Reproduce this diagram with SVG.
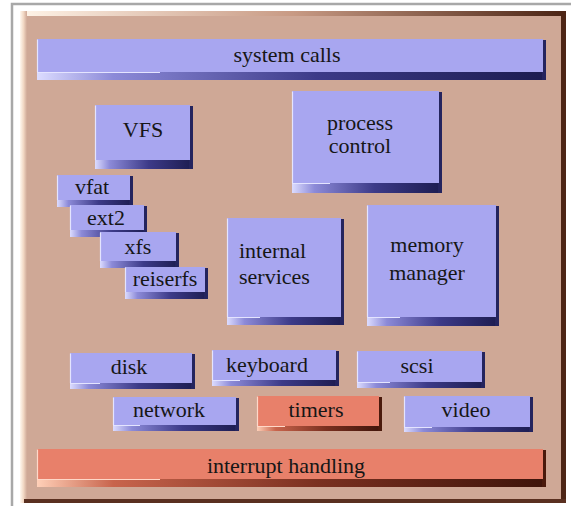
<svg xmlns="http://www.w3.org/2000/svg" width="571" height="506" viewBox="0 0 571 506">
  <defs>
    <!-- bottom bevel of the blue blocks: lit on the left, in shadow on the right -->
    <linearGradient id="slabBlue" x1="0" y1="0" x2="1" y2="0">
      <stop offset="0" stop-color="#dcdcff"/>
      <stop offset="0.15" stop-color="#8c8ad8"/>
      <stop offset="0.55" stop-color="#3c3a88"/>
      <stop offset="1" stop-color="#1c1c50"/>
    </linearGradient>
    <linearGradient id="slabRed" x1="0" y1="0" x2="1" y2="0">
      <stop offset="0" stop-color="#ffd0b8"/>
      <stop offset="0.15" stop-color="#c8644c"/>
      <stop offset="0.55" stop-color="#7a3020"/>
      <stop offset="1" stop-color="#3e140a"/>
    </linearGradient>
    <linearGradient id="boardTop" x1="0" y1="0" x2="1" y2="0">
      <stop offset="0" stop-color="#fff4e8"/>
      <stop offset="0.5" stop-color="#c89a84"/>
      <stop offset="1" stop-color="#4a2414"/>
    </linearGradient>
    <linearGradient id="boardLeft" x1="0" y1="0" x2="1" y2="0">
      <stop offset="0" stop-color="#fff8f0"/>
      <stop offset="0.5" stop-color="#f2d8c4"/>
      <stop offset="1" stop-color="#cfa896"/>
    </linearGradient>
  </defs>
  <style>
    .frame { stroke: #a8a8a8; stroke-width: 2.5; fill: none; }
    .board { fill: #cfa896; }
    .faceB { fill: #a8a6f0; }
    .faceR { fill: #e8806a; }
    .slabB { fill: url(#slabBlue); }
    .slabR { fill: url(#slabRed); }
    .sideB { fill: #24245e; }
    .sideR { fill: #4a1a0c; }
    .litB { stroke: #e4e4ff; stroke-width: 1.2; fill: none; }
    .litR { stroke: #ffd8c8; stroke-width: 1.2; fill: none; }
  </style>

  <rect width="571" height="506" fill="#ffffff"/>
  <!-- outer grey rule -->
  <path class="frame" d="M12 506 V4 H571"/>

  <!-- the board -->
  <g id="board">
    <rect class="board" x="20" y="11" width="546" height="492"/>
    <rect x="20" y="11" width="546" height="5" fill="url(#boardTop)"/>
    <rect x="20" y="11" width="7" height="492" fill="url(#boardLeft)"/>
    <rect x="561" y="11" width="5" height="492" fill="#4e2616"/>
    <rect x="24" y="499" width="542" height="4" fill="#5a3020"/>
  </g>

  <g id="system-calls">
    <rect class="slabB" x="37" y="70" width="509" height="10"/>
    <rect class="sideB" x="542" y="40" width="4" height="40"/>
    <rect class="faceB" x="37" y="39" width="506" height="33"/>
    <path class="litB" d="M37.5 72 V39.5 M37 72.5 H160"/>
    <text x="287" y="62" font-family="Liberation Serif, serif" font-size="22" fill="#161616" text-anchor="middle">system calls</text>
  </g>

  <g id="vfs">
    <rect class="slabB" x="95" y="158" width="98" height="11"/>
    <rect class="sideB" x="189" y="106" width="4" height="63"/>
    <rect class="faceB" x="95" y="105" width="95" height="55"/>
    <path class="litB" d="M95.5 160 V105.5"/>
    <text x="143" y="137" font-family="Liberation Serif, serif" font-size="22" fill="#161616" text-anchor="middle">VFS</text>
  </g>

  <g id="vfat">
    <rect class="slabB" x="57" y="198" width="76" height="9"/>
    <rect class="sideB" x="129" y="176" width="4" height="31"/>
    <rect class="faceB" x="57" y="175" width="73" height="25"/>
    <path class="litB" d="M57.5 200 V175.5"/>
    <text x="92" y="194" font-family="Liberation Serif, serif" font-size="22" fill="#161616" text-anchor="middle">vfat</text>
  </g>

  <g id="ext2">
    <rect class="slabB" x="70" y="228" width="77" height="9"/>
    <rect class="sideB" x="143" y="206" width="4" height="31"/>
    <rect class="faceB" x="70" y="205" width="74" height="25"/>
    <path class="litB" d="M70.5 230 V205.5"/>
    <text x="106" y="225" font-family="Liberation Serif, serif" font-size="22" fill="#161616" text-anchor="middle">ext2</text>
  </g>

  <g id="xfs">
    <rect class="slabB" x="100" y="259" width="79" height="9"/>
    <rect class="sideB" x="175" y="233" width="4" height="35"/>
    <rect class="faceB" x="100" y="232" width="76" height="29"/>
    <path class="litB" d="M100.5 261 V232.5"/>
    <text x="138" y="254" font-family="Liberation Serif, serif" font-size="22" fill="#161616" text-anchor="middle">xfs</text>
  </g>

  <g id="reiserfs">
    <rect class="slabB" x="125" y="290" width="83" height="9"/>
    <rect class="sideB" x="204" y="268" width="4" height="31"/>
    <rect class="faceB" x="125" y="267" width="80" height="25"/>
    <path class="litB" d="M125.5 292 V267.5"/>
    <text x="165" y="286" font-family="Liberation Serif, serif" font-size="22" fill="#161616" text-anchor="middle">reiserfs</text>
  </g>

  <g id="process-control">
    <rect class="slabB" x="292" y="181" width="150" height="12"/>
    <rect class="sideB" x="438" y="92" width="4" height="101"/>
    <rect class="faceB" x="292" y="91" width="147" height="92"/>
    <path class="litB" d="M292.5 183 V91.5 M292 183.5 H330"/>
    <text x="360" y="130" font-family="Liberation Serif, serif" font-size="22" fill="#161616" text-anchor="middle">process</text>
    <text x="360" y="153" font-family="Liberation Serif, serif" font-size="22" fill="#161616" text-anchor="middle">control</text>
  </g>

  <g id="internal-services">
    <rect class="slabB" x="227" y="315" width="117" height="10"/>
    <rect class="sideB" x="340" y="219" width="4" height="106"/>
    <rect class="faceB" x="227" y="218" width="114" height="99"/>
    <path class="litB" d="M227.5 317 V218.5 M227 317.5 H260"/>
    <text x="239" y="258" font-family="Liberation Serif, serif" font-size="22" fill="#161616">internal</text>
    <text x="239" y="284" font-family="Liberation Serif, serif" font-size="22" fill="#161616">services</text>
  </g>

  <g id="memory-manager">
    <rect class="slabB" x="367" y="315" width="132" height="11"/>
    <rect class="sideB" x="495" y="206" width="4" height="120"/>
    <rect class="faceB" x="367" y="205" width="129" height="112"/>
    <path class="litB" d="M367.5 317 V205.5 M367 317.5 H400"/>
    <text x="427" y="252" font-family="Liberation Serif, serif" font-size="22" fill="#161616" text-anchor="middle">memory</text>
    <text x="427" y="280" font-family="Liberation Serif, serif" font-size="22" fill="#161616" text-anchor="middle">manager</text>
  </g>

  <g id="disk">
    <rect class="slabB" x="70" y="381" width="125" height="8"/>
    <rect class="sideB" x="191" y="354" width="4" height="35"/>
    <rect class="faceB" x="70" y="353" width="122" height="30"/>
    <path class="litB" d="M70.5 383 V353.5 M70 383.5 H100"/>
    <text x="129" y="374" font-family="Liberation Serif, serif" font-size="22" fill="#161616" text-anchor="middle">disk</text>
  </g>

  <g id="keyboard">
    <rect class="slabB" x="212" y="378" width="127" height="8"/>
    <rect class="sideB" x="335" y="351" width="4" height="35"/>
    <rect class="faceB" x="212" y="350" width="124" height="30"/>
    <path class="litB" d="M212.5 380 V350.5 M212 380.5 H240"/>
    <text x="267" y="372" font-family="Liberation Serif, serif" font-size="22" fill="#161616" text-anchor="middle">keyboard</text>
  </g>

  <g id="scsi">
    <rect class="slabB" x="357" y="380" width="128" height="8"/>
    <rect class="sideB" x="481" y="352" width="4" height="36"/>
    <rect class="faceB" x="357" y="351" width="125" height="31"/>
    <path class="litB" d="M357.5 382 V351.5 M357 382.5 H390"/>
    <text x="417" y="373" font-family="Liberation Serif, serif" font-size="22" fill="#161616" text-anchor="middle">scsi</text>
  </g>

  <g id="network">
    <rect class="slabB" x="113" y="423" width="126" height="8"/>
    <rect class="sideB" x="235" y="398" width="4" height="33"/>
    <rect class="faceB" x="113" y="397" width="123" height="28"/>
    <path class="litB" d="M113.5 425 V397.5 M113 425.5 H140"/>
    <text x="169" y="417" font-family="Liberation Serif, serif" font-size="22" fill="#161616" text-anchor="middle">network</text>
  </g>

  <g id="timers">
    <rect class="slabR" x="257" y="424" width="125" height="7"/>
    <rect class="sideR" x="378" y="397" width="4" height="34"/>
    <rect class="faceR" x="257" y="396" width="122" height="30"/>
    <path class="litR" d="M257.5 426 V396.5 M257 426.5 H285"/>
    <text x="316" y="417" font-family="Liberation Serif, serif" font-size="22" fill="#161616" text-anchor="middle">timers</text>
  </g>

  <g id="video">
    <rect class="slabB" x="404" y="425" width="129" height="7"/>
    <rect class="sideB" x="529" y="397" width="4" height="35"/>
    <rect class="faceB" x="404" y="396" width="126" height="31"/>
    <path class="litB" d="M404.5 427 V396.5 M404 427.5 H432"/>
    <text x="466" y="417" font-family="Liberation Serif, serif" font-size="22" fill="#161616" text-anchor="middle">video</text>
  </g>

  <g id="interrupt-handling">
    <rect class="slabR" x="37" y="477" width="509" height="10"/>
    <rect class="sideR" x="542" y="450" width="4" height="37"/>
    <rect class="faceR" x="37" y="449" width="506" height="30"/>
    <path class="litR" d="M37.5 479 V449.5 M37 479.5 H160"/>
    <text x="286" y="473" font-family="Liberation Serif, serif" font-size="22" fill="#161616" text-anchor="middle">interrupt handling</text>
  </g>

  <!-- the layers touch by position only; no connecting lines -->
  <g id="connectors"/>
</svg>
